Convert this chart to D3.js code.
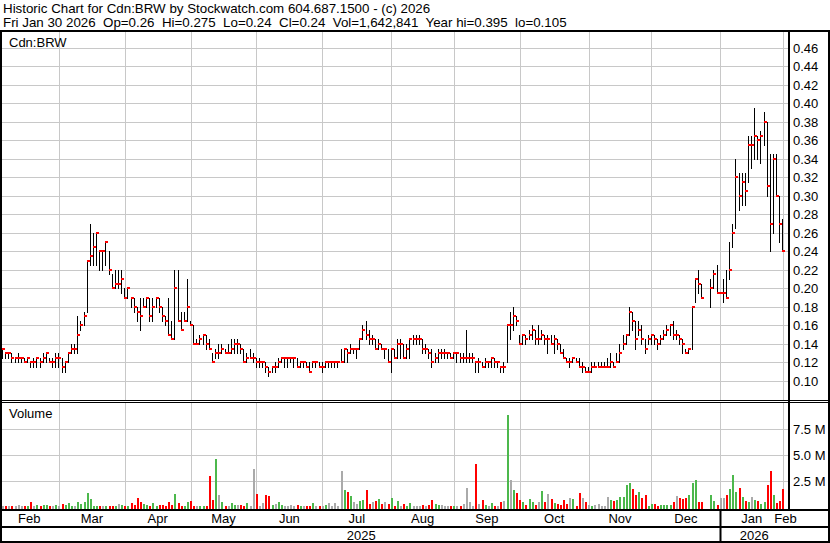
<!DOCTYPE html>
<html><head><meta charset="utf-8">
<script src="https://cdn.jsdelivr.net/npm/d3@7"></script>
<style>
body{margin:0;background:#fff}
svg{display:block}
text{font-family:"Liberation Sans",Arial,Helvetica,sans-serif;fill:#000}
</style>
</head><body>
<svg id="chart" width="830" height="543"></svg>
<script>
// ---------------- DATA ----------------
const headerLine1 = "Historic Chart for Cdn:BRW by Stockwatch.com 604.687.1500 - (c) 2026";
const headerLine2 = "Fri Jan 30 2026  Op=0.26  Hi=0.275  Lo=0.24  Cl=0.24  Vol=1,642,841  Year hi=0.395  lo=0.105";
const symbolLabel = "Cdn:BRW";
const volumeLabel = "Volume";

const monthLabels = ["Feb","Mar","Apr","May","Jun","Jul","Aug","Sep","Oct","Nov","Dec","Jan","Feb"];
const monthDays   = [19,21,21,21,21,22,20,21,22,20,22,20];   // trading-day slots per month
const yearLabels  = ["2025","2026"];
const yearStartMonth = [0, 11];                              // month index where each year starts

const priceTicks = [0.10,0.12,0.14,0.16,0.18,0.20,0.22,0.24,0.26,0.28,0.30,0.32,0.34,0.36,0.38,0.40,0.42,0.44,0.46];
const volTicks = [2.5, 5.0, 7.5];           // millions
const volTickLabels = ["2.5 M","5.0 M","7.5 M"];

const close = [
.135,.13,.13,.125,.125,.125,.125,.12,.125,.12,.12,.125,.12,.125,.13,.12,.12,.125,.125,
.115,.12,.13,.135,.135,.15,.16,.17,.23,.235,.245,.26,.24,.24,.25,.22,.20,.205,.205,.21,.19,
.20,.19,.18,.175,.17,.18,.19,.17,.18,.19,.18,.17,.165,.15,.145,.20,.165,.155,.165,.18,.16,
.14,.14,.145,.15,.14,.135,.12,.13,.13,.135,.13,.13,.135,.14,.14,.135,.12,.125,.125,.125,.12,
.12,.12,.115,.11,.115,.115,.12,.125,.125,.125,.125,.125,.115,.12,.12,.115,.11,.12,.12,.115,.115,
.12,.12,.12,.12,.12,.12,.135,.13,.135,.135,.135,.145,.155,.15,.145,.145,.135,.14,.135,.135,.12,.135,
.125,.14,.14,.125,.135,.145,.145,.145,.145,.135,.135,.13,.12,.125,.13,.13,.13,.13,.125,.13,
.13,.125,.125,.125,.125,.125,.12,.12,.115,.12,.12,.125,.12,.12,.115,.115,.16,.16,.17,.165,.14,
.15,.145,.15,.155,.145,.145,.15,.145,.145,.14,.145,.14,.13,.125,.12,.12,.125,.12,.115,.115,.11,.11,
.115,.115,.115,.115,.115,.115,.12,.115,.12,.13,.14,.15,.175,.165,.145,.155,.145,.135,.145,.15,
.145,.14,.145,.15,.155,.16,.15,.15,.145,.14,.13,.135,.18,.21,.205,.19,null,null,.20,.215,.195,.195,
.195,.19,.22,.26,.32,.30,.315,.305,.355,.355,.365,.36,.365,.38,.31,.27,.34,.30,.27,.24
];
const high = [
.135,.13,.13,.13,.125,.13,.125,.125,.125,.12,.125,.125,.125,.13,.13,.125,.125,.13,.13,
.125,.12,.13,.14,.14,.17,.165,.175,.23,.27,.26,.26,.24,.24,.25,.24,.215,.22,.22,.22,.20,
.20,.19,.19,.18,.19,.19,.19,.19,.19,.19,.19,.18,.17,.19,.165,.22,.22,.175,.175,.21,.165,
.16,.145,.15,.15,.15,.145,.13,.135,.14,.14,.135,.14,.145,.145,.145,.14,.135,.13,.135,.13,.125,
.125,.12,.12,.115,.115,.12,.125,.125,.125,.125,.125,.125,.125,.12,.12,.12,.12,.12,.12,.12,.12,
.12,.12,.12,.12,.12,.135,.135,.135,.14,.135,.135,.145,.16,.165,.155,.15,.145,.145,.14,.135,.135,.135,
.135,.145,.145,.14,.14,.145,.15,.15,.15,.145,.14,.135,.135,.13,.135,.135,.135,.13,.13,.13,
.13,.13,.13,.155,.13,.13,.12,.125,.12,.125,.12,.125,.125,.12,.115,.12,.16,.175,.18,.17,.15,
.15,.15,.155,.16,.155,.16,.155,.15,.15,.15,.15,.145,.14,.135,.125,.125,.125,.125,.125,.12,.115,.115,
.12,.12,.12,.12,.12,.125,.13,.12,.13,.14,.15,.15,.18,.175,.165,.165,.16,.145,.15,.15,
.15,.145,.15,.155,.16,.16,.165,.155,.15,.145,.135,.135,.18,.21,.22,.205,null,null,.21,.22,.225,.195,
.21,.22,.25,.27,.34,.325,.325,.325,.365,.365,.395,.365,.37,.39,.38,.345,.345,.345,.30,.275
];
const low = [
.125,.125,.125,.12,.12,.12,.12,.12,.12,.115,.115,.115,.115,.12,.12,.12,.115,.115,.115,
.11,.11,.12,.13,.13,.13,.155,.16,.175,.225,.225,.225,.22,.22,.225,.215,.20,.20,.20,.195,.19,
.19,.18,.175,.165,.155,.18,.18,.165,.165,.18,.175,.165,.16,.15,.145,.145,.165,.155,.165,.165,.16,
.14,.14,.14,.14,.135,.135,.12,.125,.125,.13,.13,.13,.13,.13,.13,.13,.12,.12,.125,.12,.115,
.115,.115,.11,.105,.11,.11,.115,.12,.115,.115,.12,.115,.115,.115,.115,.115,.11,.115,.115,.115,.11,
.115,.115,.115,.115,.115,.12,.12,.12,.13,.13,.125,.135,.145,.145,.14,.14,.135,.135,.135,.125,.12,.11,
.125,.125,.125,.125,.125,.125,.14,.14,.14,.13,.13,.125,.115,.12,.12,.125,.125,.125,.125,.125,
.12,.12,.12,.12,.12,.12,.11,.11,.115,.115,.115,.115,.115,.115,.11,.11,.12,.145,.155,.16,.14,
.14,.14,.145,.145,.14,.14,.145,.14,.13,.14,.13,.135,.13,.125,.12,.115,.12,.12,.115,.11,.11,.11,
.11,.115,.115,.115,.115,.115,.115,.115,.12,.12,.135,.14,.15,.155,.135,.15,.14,.13,.14,.14,
.14,.135,.14,.145,.15,.15,.145,.145,.14,.13,.13,.13,.135,.185,.195,.19,null,null,.18,.20,.195,.195,
.185,.19,.21,.245,.265,.285,.29,.29,.315,.33,.34,.34,.335,.355,.30,.24,.26,.30,.25,.24
];
const volume = [ // millions of shares
.03,.05,.03,.03,.03,.15,.03,.03,.05,.45,.03,.15,.03,.1,.1,.05,.03,.1,.03,
.25,.15,.3,.03,.03,.45,.25,.4,1.3,.7,.05,.05,.03,.05,.05,.03,.03,.03,.25,.15,.03,
.03,.35,.1,.8,.4,.27,.1,.05,.33,.03,.1,.15,.03,.43,.15,1.2,.33,.03,.03,.43,.53,
.05,.05,.03,.05,.03,2.9,.62,4.55,1.1,.43,.05,.03,.33,.15,.15,.15,.05,.33,.03,3.6,1.2,
.05,.33,1.1,1.0,.15,.25,.43,.15,.03,.03,.15,.03,.15,.03,.03,.05,.03,.33,.03,.05,.03,
.15,.33,.03,.33,.03,3.4,1.6,1.43,1.0,.43,.25,.53,.62,1.6,.25,.43,.53,.72,.25,.43,.25,.8,
.05,.53,.05,.25,.03,.33,.05,.05,.05,.15,.03,.15,.62,.25,.15,.15,.05,.05,.03,.03,
.05,.05,.25,1.78,.43,.03,4.1,.25,.62,.15,.05,.33,.03,.05,.43,.53,8.8,2.55,1.6,1.3,.62,
.43,.15,.72,.43,.15,.43,1.5,.43,1.2,.72,.33,.25,.15,.62,.25,.8,.72,.05,1.3,.8,.43,.15,
.05,.15,.25,.03,.03,.9,.62,.53,.62,.9,.9,2.07,2.26,1.68,1.1,1.4,.8,1.1,.03,.25,
.25,.05,.15,.15,.15,.15,.43,1.0,.8,.72,.8,1.1,2.26,2.55,.43,.43,0,0,1.1,.53,.15,.8,
.8,1.1,1.68,3.0,1.4,1.78,.9,.53,.43,.9,.62,.53,.25,.43,2.07,3.4,1.1,.33,.53,1.64
];

// ---------------- LAYOUT ----------------
const W = 830, H = 543;
const plotL = 2, plotR = 788;
const priceTop = 32, priceBot = 400;
const volTop = 403, volBot = 509;
const gridColor = "#c8c8c8";
const upColor = "#4cb84c", downColor = "#ff0000", flatColor = "#aaaaaa";

const svg = d3.select("#chart");
const nDays = close.length;

const x = d3.scaleLinear().domain([0, nDays]).range([-0.55, 783]);
const xBar = i => Math.round(x(i + 0.5) + 1);
const y = d3.scaleLinear().domain([0.10, 0.46]).range([381, 47.5]);
const yv = d3.scaleLinear().domain([0, 10]).range([506.5, 402.5]);

// month boundaries
const bounds = [0];
monthDays.forEach(d => bounds.push(bounds[bounds.length - 1] + d));

svg.append("rect").attr("width", W).attr("height", H).attr("fill", "#fff");

const defs = svg.append("defs");
defs.append("clipPath").attr("id", "clipP").append("rect")
  .attr("x", plotL).attr("y", priceTop).attr("width", plotR - plotL).attr("height", priceBot - priceTop);
defs.append("clipPath").attr("id", "clipV").append("rect")
  .attr("x", plotL).attr("y", volTop).attr("width", plotR - plotL).attr("height", volBot - volTop);

// ---------- grids ----------
const gP = svg.append("g").attr("clip-path", "url(#clipP)");
const gV = svg.append("g").attr("clip-path", "url(#clipV)");

gP.selectAll("line.h").data(priceTicks).join("line")
  .attr("x1", plotL).attr("x2", plotR)
  .attr("y1", d => Math.round(y(d)) + 0.5).attr("y2", d => Math.round(y(d)) + 0.5)
  .attr("stroke", gridColor).attr("stroke-width", 1);

const vBounds = bounds.slice(1);
[gP, gV].forEach((g, k) => {
  g.selectAll("line.v").data(vBounds).join("line")
    .attr("x1", d => Math.round(x(d)) + 0.5).attr("x2", d => Math.round(x(d)) + 0.5)
    .attr("y1", k === 0 ? priceTop : volTop).attr("y2", k === 0 ? priceBot : volBot)
    .attr("stroke", gridColor).attr("stroke-width", 1);
});

gV.selectAll("line.h").data(volTicks).join("line")
  .attr("x1", plotL).attr("x2", plotR)
  .attr("y1", d => Math.round(yv(d)) + 0.5).attr("y2", d => Math.round(yv(d)) + 0.5)
  .attr("stroke", gridColor).attr("stroke-width", 1);

// ---------- price bars ----------
const days = d3.range(nDays).filter(i => close[i] != null);
gP.selectAll("rect.hl").data(days).join("rect")
  .attr("x", i => xBar(i))
  .attr("y", i => Math.round(y(Math.max(high[i], close[i]))))
  .attr("width", 1)
  .attr("height", i => Math.round(y(Math.min(low[i], close[i]))) - Math.round(y(Math.max(high[i], close[i]))) + 1)
  .attr("fill", "#000");
gP.selectAll("rect.cl").data(days).join("rect")
  .attr("x", i => xBar(i))
  .attr("y", i => Math.round(y(close[i])) - 1)
  .attr("width", 3).attr("height", 2)
  .attr("fill", downColor);

// ---------- volume bars ----------
function prevClose(i) {
  for (let j = i - 1; j >= 0; j--) if (close[j] != null) return close[j];
  return close[i];
}
const vdays = d3.range(nDays).filter(i => volume[i] > 0 && close[i] != null);
gV.selectAll("rect.vol").data(vdays).join("rect")
  .attr("x", i => xBar(i))
  .attr("y", i => Math.round(yv(volume[i])))
  .attr("width", 2)
  .attr("height", i => volBot - Math.round(yv(volume[i])))
  .attr("fill", i => {
    const p = prevClose(i);
    if (i === 0 || Math.abs(close[i] - p) < 1e-9) return flatColor;
    return close[i] > p ? upColor : downColor;
  });

// ---------- frames ----------
const black = (x0, y0, w, h) => svg.append("rect").attr("x", x0).attr("y", y0).attr("width", w).attr("height", h).attr("fill", "#000");
black(0, 30, W, 2);            // top rule under header
black(0, 30, 2, H - 30);        // left frame
black(W - 2, 30, 2, H - 30);    // right frame
black(plotR, 30, 2, volBot - 30); // plot right edge
black(0, 400, W, 1);            // panel separator (double)
black(0, 402, W, 1);
black(0, volBot, W, 2);         // axis top
black(0, 526, W, 2);            // between month and year rows
black(0, H - 2, W, 2);          // bottom frame
// year separator
yearStartMonth.slice(1).forEach(m => black(Math.round(x(bounds[m])) - 0.5, volBot, 2, H - volBot));

// ---------- texts ----------
svg.append("text").attr("x", 3).attr("y", 13).style("font-size", "13.33px").style("white-space", "pre").text(headerLine1);
svg.append("text").attr("x", 3).attr("y", 27).style("font-size", "13.33px").style("white-space", "pre").text(headerLine2);
svg.append("text").attr("x", 9).attr("y", 47).style("font-size", "13px").text(symbolLabel);
svg.append("text").attr("x", 9).attr("y", 418).style("font-size", "13px").text(volumeLabel);

// price axis labels
svg.selectAll("text.py").data(priceTicks).join("text")
  .attr("x", 793).attr("y", d => Math.round(y(d)) + 5)
  .style("font-size", "13px").text(d => d3.format(".2f")(d));

// volume axis labels
svg.selectAll("text.vy").data(volTicks).join("text")
  .attr("x", 793).attr("y", d => Math.round(yv(d)) + 5)
  .style("font-size", "13px").text((d, i) => volTickLabels[i]);

// month labels
svg.selectAll("text.mo").data(monthLabels).join("text")
  .attr("x", (d, i) => {
    const a = x(bounds[i]);
    const b = i + 1 < bounds.length ? x(bounds[i + 1]) : plotR;
    return (a + Math.min(b, plotR)) / 2;
  })
  .attr("y", 523).attr("text-anchor", "middle").style("font-size", "13px").text(d => d);

// year labels
svg.selectAll("text.yr").data(yearLabels).join("text")
  .attr("x", (d, i) => {
    const a = i === 0 ? plotL : x(bounds[yearStartMonth[i]]);
    const b = i + 1 < yearLabels.length ? x(bounds[yearStartMonth[i + 1]]) : plotR;
    return (a + b) / 2;
  })
  .attr("y", 540).attr("text-anchor", "middle").style("font-size", "13px").text(d => d);
</script>
</body></html>
